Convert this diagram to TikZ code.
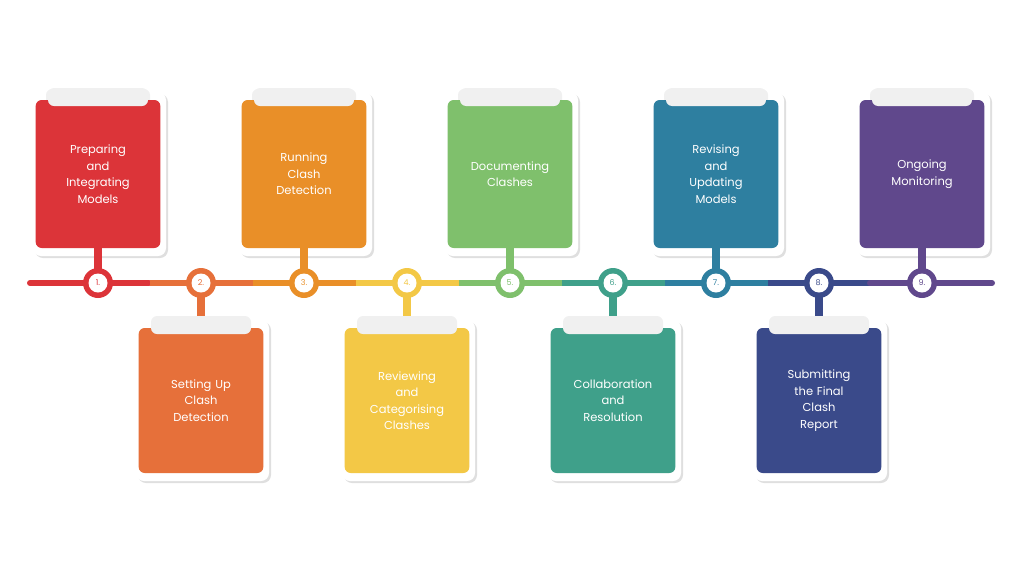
\documentclass[tikz,border=0pt]{standalone}
\usepackage{fontspec}
\setmainfont{Poppins}
\usetikzlibrary{shadows}
\definecolor{c1}{HTML}{DC3439}
\definecolor{c2}{HTML}{E6703A}
\definecolor{c3}{HTML}{E98F28}
\definecolor{c4}{HTML}{F3C846}
\definecolor{c5}{HTML}{7FC06C}
\definecolor{c6}{HTML}{3FA08A}
\definecolor{c7}{HTML}{2E7FA0}
\definecolor{c8}{HTML}{3A4A8A}
\definecolor{c9}{HTML}{60488C}
\tikzset{
  frame/.style={fill=white, rounded corners=8pt, drop shadow={shadow xshift=2pt,shadow yshift=-2pt,opacity=0.25}},
  tab/.style={fill=black!6, rounded corners=6pt},
  card/.style={rounded corners=6pt, minimum width=122pt, align=center, text=white, font=\fontsize{11.5}{16.5}\selectfont, text width=118pt},
  num/.style={circle, fill=white, minimum size=19pt, inner sep=0pt, font=\fontsize{8}{8}\selectfont},
  seg/.style={line width=6pt}
}
\begin{document}
\begin{tikzpicture}[x=1pt,y=-1pt]
\useasboundingbox (0,0) rectangle (1024,576);
\def\ly{283}
% line segments
\draw[seg,c1,line cap=round] (30,\ly) -- (149,\ly);
\foreach \i/\c in {2/c2,3/c3,4/c4,5/c5,6/c6,7/c7,8/c8}{
  \pgfmathsetmacro\xa{98+103*(\i-1)-51}
  \pgfmathsetmacro\xb{98+103*(\i-1)+52}
  \draw[seg,\c] (\xa,\ly) -- (\xb,\ly);
}
\draw[seg,c9,line cap=round] (870,\ly) -- (992,\ly);
% cards
\foreach \i/\c/\t in {1/c1/{Preparing\\and\\Integrating\\Models},3/c3/{Running\\Clash\\Detection},5/c5/{Documenting\\Clashes},7/c7/{Revising\\and\\Updating\\Models},9/c9/{Ongoing\\Monitoring}}{
  \pgfmathsetmacro\x{98+103*(\i-1)}
  \fill[frame] (\x-65,92) rectangle (\x+68,256);
  \fill[tab] (\x-52,89) rectangle (\x+52,110);
  \fill[\c] (\x-4,248) rectangle (\x+4,270);
  \node[card, fill=\c, minimum height=148pt] (k\i) at (\x,174) {\t};
  \fill[tab] (\x-50,88) rectangle (\x+50,106);
}
\foreach \i/\c/\t in {2/c2/{Setting Up\\Clash\\Detection},4/c4/{Reviewing\\and\\Categorising\\Clashes},6/c6/{Collaboration\\and\\Resolution},8/c8/{Submitting\\the Final\\Clash\\Report}}{
  \pgfmathsetmacro\x{98+103*(\i-1)}
  \fill[frame] (\x-65,320) rectangle (\x+68,481);
  \fill[\c] (\x-4,296) rectangle (\x+4,330);
  \node[card, fill=\c, minimum height=145pt] (k\i) at (\x,400.5) {\t};
  \fill[tab] (\x-50,316) rectangle (\x+50,334);
}
% circles
\foreach \i/\c in {1/c1,2/c2,3/c3,4/c4,5/c5,6/c6,7/c7,8/c8,9/c9}{
  \pgfmathsetmacro\x{98+103*(\i-1)}
  \fill[\c] (\x,\ly) circle (15);
  \node[num, text=\c] (n\i) at (\x,\ly) {\i.};
}
\end{tikzpicture}
\end{document}
